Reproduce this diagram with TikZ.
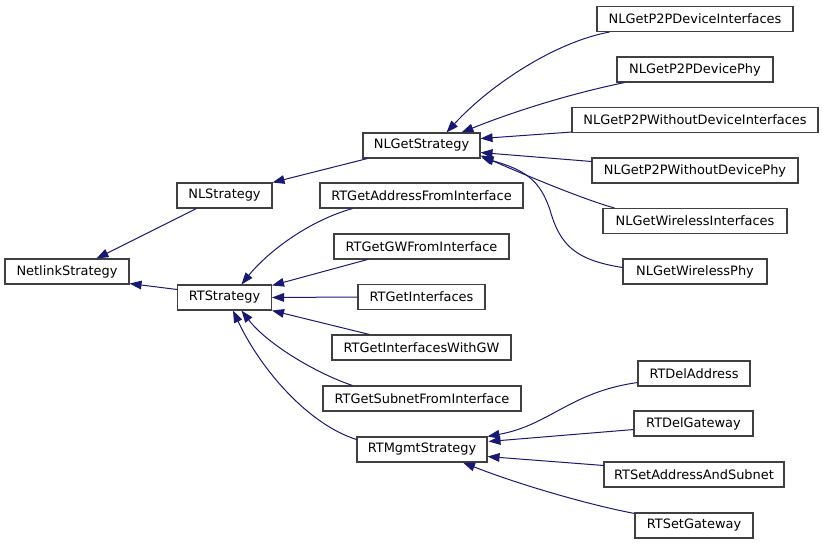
\documentclass[tikz,border=0pt]{standalone}
\usepackage{fontspec}
\setmainfont{DejaVu Sans}
\usetikzlibrary{arrows.meta,calc}
\definecolor{edgecol}{RGB}{25,25,112}
\definecolor{boxcol}{RGB}{64,64,64}
\begin{document}
\begin{tikzpicture}[x=0.75pt,y=-0.75pt,
  box/.style={draw=boxcol, fill=white, line width=0.8pt, inner sep=0pt,
    minimum height={25*0.75pt}, minimum width={#1*0.75pt},
    font=\fontsize{9.7pt}{11pt}\selectfont},
  edge/.style={draw=edgecol, line width=0.75pt,
    -{Triangle[length=9pt,width=6.5pt]}}]
\useasboundingbox (0,0) rectangle (824,544);
% nodes
\node[box=124] (NS) at (67,271.5) {NetlinkStrategy};
\node[box=95] (NL) at (224.5,195.5) {NLStrategy};
\node[box=94] (RT) at (224.5,297.5) {RTStrategy};
\node[box=117] (NLG) at (421.5,145.5) {NLGetStrategy};
\node[box=203] (RGA) at (421.5,195.5) {RTGetAddressFromInterface};
\node[box=175] (RGG) at (421.5,246.5) {RTGetGWFromInterface};
\node[box=127] (RGI) at (421.5,297) {RTGetInterfaces};
\node[box=179] (RGW) at (421.5,347.5) {RTGetInterfacesWithGW};
\node[box=198] (RGS) at (422,398.5) {RTGetSubnetFromInterface};
\node[box=130] (RM) at (422,449.5) {RTMgmtStrategy};
\node[box=196] (P1) at (695,19) {NLGetP2PDeviceInterfaces};
\node[box=156] (P2) at (695,69.5) {NLGetP2PDevicePhy};
\node[box=246] (P3) at (695,120) {NLGetP2PWithoutDeviceInterfaces};
\node[box=206] (P4) at (695,170.5) {NLGetP2PWithoutDevicePhy};
\node[box=184] (W1) at (695,221) {NLGetWirelessInterfaces};
\node[box=144] (W2) at (695,271.5) {NLGetWirelessPhy};
\node[box=112] (D1) at (694,373.5) {RTDelAddress};
\node[box=119] (D2) at (693.5,423.5) {RTDelGateway};
\node[box=180] (S1) at (694,474.5) {RTSetAddressAndSubnet};
\node[box=118] (S2) at (694,525.5) {RTSetGateway};
% edges to NetlinkStrategy
\draw[edge] ($(NL.south west)+(20,0)$) -- ($(NS.north west)+(92,0)$);
\draw[edge] ($(RT.north west)+(0,5)$) -- ($(NS.south east)+(0,-1)$);
% NLStrategy
\draw[edge] ($(NLG.south west)+(5,0)$) -- (NL.north east);
% RTStrategy
\draw[edge] ($(RGA.south west)+(33,0)$) .. controls (305,222) and (265,255) .. ($(RT.north)+(17,0)$);
\draw[edge] ($(RGG.south west)+(34,0)$) -- ($(RT.north east)+(0,1)$);
\draw[edge] (RGI.west) -- (RT.east);
\draw[edge] ($(RGW.north west)+(38,0)$) -- (RT.south east);
\draw[edge] ($(RGS.north west)+(30,0)$) .. controls (318,374) and (268,345) .. ($(RT.south)+(17,0)$);
\draw[edge] ($(RM.north west)+(0,3)$) .. controls (310,425) and (262,372) .. ($(RT.south)+(8.5,0)$);
% NLGetStrategy
\draw[edge] ($(P1.south west)+(13,0)$) .. controls (555,42) and (490,85) .. ($(NLG.north)+(25,0)$);
\draw[edge] ($(P2.south west)+(8,0)$) .. controls (560,96) and (505,115) .. ($(NLG.north)+(40,0)$);
\draw[edge] ($(P3.south west)+(0,-1)$) -- ($(NLG.south east)+(0,-20)$);
\draw[edge] ($(P4.north west)+(0,4)$) -- ($(NLG.south east)+(0,-6)$);
\draw[edge] ($(W1.north west)+(12,0)$) .. controls (585,200) and (525,175) .. ($(NLG.south east)+(0,-3)$);
\draw[edge] ($(W2.west)+(0,-4)$) .. controls (575,260) and (560,245) .. (550,210)
  .. controls (540,180) and (525,170) .. ($(NLG.south east)+(1,-1)$);
% RTMgmtStrategy
\draw[edge] ($(D1.south west)+(0,-4)$) .. controls (570,392) and (550,425) .. (RM.north east);
\draw[edge] ($(D2.south west)+(0,-7)$) -- ($(RM.north east)+(1,5)$);
\draw[edge] ($(S1.north west)+(0,4)$) -- ($(RM.south east)+(0,-6)$);
\draw[edge] ($(S2.north west)+(0,1)$) .. controls (590,505) and (520,485) .. ($(RM.south)+(41,0)$);
\end{tikzpicture}
\end{document}
